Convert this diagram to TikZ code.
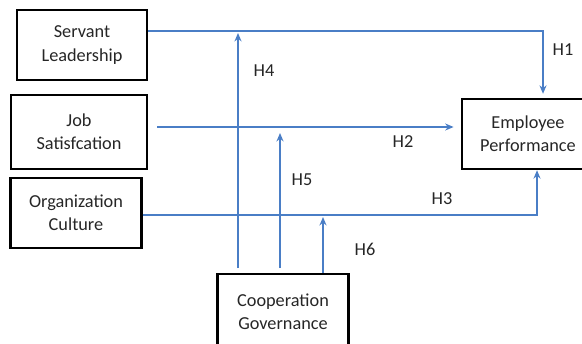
\documentclass[tikz,border=0pt]{standalone}
\usepackage{fontspec}
\setmainfont{Carlito}
\usepackage{xcolor}
\usepackage{tikz}
\usetikzlibrary{arrows.meta, positioning, calc}
\definecolor{linkblue}{HTML}{4A7EC6}

\begin{document}
\begin{tikzpicture}[
    x=0.025cm, y=-0.025cm,
    >={Stealth[length=6pt, width=5pt]},
    varbox/.style={draw, line width=1.7pt, minimum width=#1, minimum height=1.75cm, align=center, inner sep=0pt, font=\fontsize{13}{16.5}\selectfont, text=black!85},
    link/.style={draw=linkblue, line width=1.5pt},
    hyp/.style={font=\fontsize{13}{15}\selectfont, text=black!85},
]
    \useasboundingbox (0,0) rectangle (582,343);
    \clip (0,0) rectangle (582,343);

    % Variables
    \node[varbox=3.25cm] (servant) at (82, 45) {Servant\\Leadership};
    \node[varbox=3.4cm, minimum height=1.85cm] (job) at (79, 132) {Job\\Satisfcation};
    \node[varbox=3.275cm] (org) at (76, 213) {Organization\\Culture};
    \node[varbox=3.3cm] (perf) at (528, 134) {Employee\\Performance};
    \node[varbox=3.275cm, minimum height=1.9cm] (coop) at (283, 312) {Cooperation\\Governance};

    % Corners and ends of the paths
    \coordinate (c1) at (543, 31);
    \coordinate (c2) at (157, 127);
    \coordinate (c3) at (537, 215);
    \coordinate (m4) at (238, 268);
    \coordinate (m5) at (280, 268);

    % Direct effects
    \draw[link, ->] (servant.east |- c1) -- (c1) -- ([yshift=0.1cm]perf.north -| c1);
    \draw[link, ->] (c2) -- ([xshift=-0.18cm]perf.west |- c2);
    \draw[link, ->] (org.east |- c3) -- (c3) -- (perf.south -| c3);

    % Moderation
    \draw[link, ->] (m4) -- ([yshift=-0.05cm]m4 |- c1);
    \draw[link, ->] (m5) -- ([yshift=-0.15cm]m5 |- c2);
    \draw[link, ->] (coop.north -| 323, 0) -- ([yshift=-0.05cm]323, 215);

    % Labels
    \node[hyp] (h1) at (563, 50) {H1};
    \node[hyp] (h2) at (403, 142) {H2};
    \node[hyp] (h3) at (442, 199) {H3};
    \node[hyp] (h4) at (264, 71) {H4};
    \node[hyp] (h5) at (302, 180) {H5};
    \node[hyp] (h6) at (365, 249) {H6};
\end{tikzpicture}
\end{document}
